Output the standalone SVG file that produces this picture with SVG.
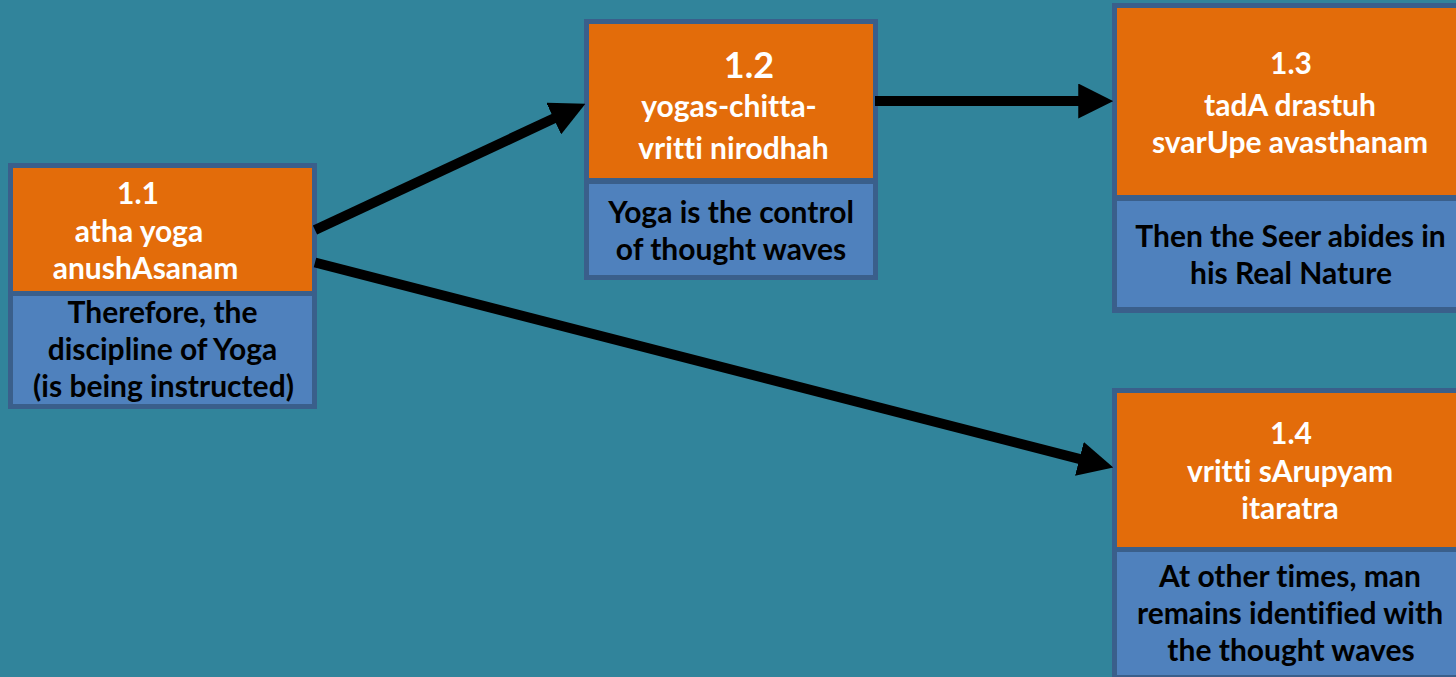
<svg xmlns="http://www.w3.org/2000/svg" width="1456" height="677" viewBox="0 0 1456 677">
<defs>
<style>
.bg{fill:#31849B}
.frame{fill:#3A5F8B}
.top{fill:#E36C0A}
.bot{fill:#4F81BD}
.t{font-family:Lato,"Open Sans","Liberation Sans",sans-serif;font-weight:bold;font-size:30px;text-anchor:middle;font-variant-ligatures:none}
.w{fill:#FFFFFF}
.k{fill:#000000}
.conn{stroke:#000000;stroke-width:10;fill:none}
</style>
<marker id="ah" viewBox="0 0 10 10" markerWidth="3.5" markerHeight="3.5" refX="0.5" refY="5" orient="auto" markerUnits="strokeWidth">
<path d="M0,0 L10,5 L0,10 z" fill="#000000"/>
</marker>
</defs>
<rect class="bg" x="0" y="0" width="1456" height="677"/>

<g id="node-1-1">
<rect class="frame" x="8" y="163" width="309" height="246"/>
<rect class="top" x="13" y="168" width="299" height="123"/>
<rect class="bot" x="13" y="296" width="299" height="108"/>
<text class="t w" x="138" y="204">1.1</text>
<text class="t w" x="139" y="242">atha yoga</text>
<text class="t w" x="145.5" y="279">anushAsanam</text>
<text class="t k" x="162.5" y="323">Therefore, the</text>
<text class="t k" x="162.5" y="360">discipline of Yoga</text>
<text class="t k" x="163.5" y="397">(is being instructed)</text>
</g>

<g id="node-1-2">
<rect class="frame" x="584" y="19" width="294" height="261"/>
<rect class="top" x="589" y="24" width="284" height="154"/>
<rect class="bot" x="589" y="184" width="284" height="91"/>
<text class="t w" x="749" y="78" style="font-size:36px">1.2</text>
<text class="t w" x="729" y="117">yogas-chitta-</text>
<text class="t w" x="733.5" y="159">vritti nirodhah</text>
<text class="t k" x="731" y="223">Yoga is the control</text>
<text class="t k" x="731" y="260">of thought waves</text>
</g>

<g id="node-1-3">
<rect class="frame" x="1112" y="3" width="360" height="310"/>
<rect class="top" x="1117" y="8" width="346" height="187"/>
<rect class="bot" x="1117" y="201" width="346" height="106"/>
<text class="t w" x="1291" y="74">1.3</text>
<text class="t w" x="1290" y="116">tadA drastuh</text>
<text class="t w" x="1290" y="153">svarUpe avasthanam</text>
<text class="t k" x="1290.5" y="247">Then the Seer abides in</text>
<text class="t k" x="1291" y="284">his Real Nature</text>
</g>

<g id="node-1-4">
<rect class="frame" x="1112" y="388" width="360" height="295"/>
<rect class="top" x="1117" y="393" width="346" height="154"/>
<rect class="bot" x="1117" y="552" width="346" height="123"/>
<text class="t w" x="1291" y="444">1.4</text>
<text class="t w" x="1290" y="482">vritti sArupyam</text>
<text class="t w" x="1290" y="519">itaratra</text>
<text class="t k" x="1290" y="587">At other times, man</text>
<text class="t k" x="1290" y="624">remains identified with</text>
<text class="t k" x="1291" y="661">the thought waves</text>
</g>

<g id="connectors">
<line class="conn" x1="315" y1="230" x2="555.3" y2="117.8" marker-end="url(#ah)"/>
<line class="conn" x1="875" y1="101" x2="1080" y2="101" marker-end="url(#ah)"/>
<line class="conn" x1="315" y1="262.5" x2="1081.1" y2="459.3" marker-end="url(#ah)"/>
</g>
</svg>
